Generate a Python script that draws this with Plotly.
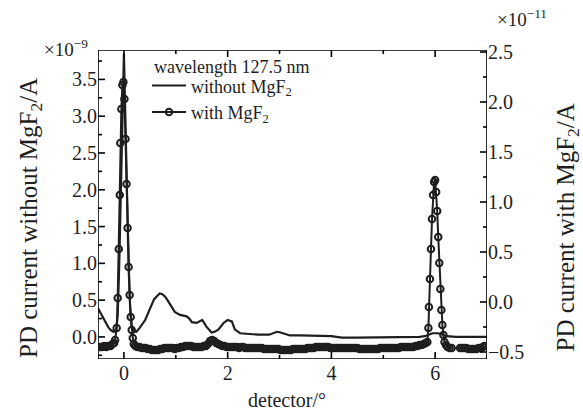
import plotly.graph_objects as go

# ---- data: PD current without MgF2 (left axis, x1e-9 A)
x_without = [-0.50, -0.45, -0.40, -0.35, -0.30, -0.25, -0.20, -0.15, -0.12, -0.09,
             -0.06, -0.03, 0.00, 0.03, 0.06, 0.09, 0.12, 0.15, 0.20, 0.24,
             0.30, 0.35, 0.41, 0.47, 0.53, 0.58, 0.63, 0.69, 0.74, 0.79,
             0.84, 0.89, 0.98, 1.08, 1.15, 1.21, 1.26, 1.31, 1.40, 1.46,
             1.51, 1.59, 1.69, 1.75, 1.82, 1.92, 2.00, 2.08, 2.14, 2.24,
             2.40, 2.60, 2.80, 2.88, 2.95, 3.02, 3.10, 3.20, 3.40, 3.60,
             3.80, 4.00, 4.10, 4.20, 4.50, 4.80, 5.10, 5.40, 5.70, 5.80,
             5.88, 5.95, 6.05, 6.12, 6.22, 6.40, 6.70, 7.00]
y_without = [0.39, 0.32, 0.25, 0.18, 0.13, 0.09, 0.07, 0.08, 0.30, 1.00,
             1.95, 2.90, 3.85, 2.90, 1.90, 0.95, 0.40, 0.15, 0.08, 0.07,
             0.12, 0.17, 0.23, 0.33, 0.44, 0.51, 0.55, 0.59, 0.58, 0.55,
             0.50, 0.44, 0.34, 0.30, 0.29, 0.28, 0.25, 0.20, 0.19, 0.21,
             0.23, 0.14, 0.06, 0.07, 0.10, 0.19, 0.23, 0.21, 0.10, 0.05,
             0.04, 0.03, 0.03, 0.05, 0.07, 0.06, 0.04, 0.02, 0.02, 0.02,
             0.02, 0.01, 0.00, -0.01, -0.01, -0.01, -0.01, -0.01, 0.00, 0.01,
             0.03, 0.05, 0.05, 0.04, 0.01, 0.00, 0.00, 0.00]

# ---- data: PD current with MgF2 (right axis, x1e-11 A)
x_with = [-0.50, -0.46, -0.42, -0.38, -0.34, -0.30, -0.26, -0.22, -0.19, -0.17,
          -0.14, -0.12, -0.10, -0.08, -0.07, -0.05, -0.03, -0.01, 0.01, 0.03,
          0.05, 0.07, 0.09, 0.11, 0.13, 0.15, 0.17, 0.19, 0.22, 0.26,
          0.30, 0.34, 0.38, 0.42, 0.46, 0.50, 0.54, 0.58, 0.62, 0.66,
          0.70, 0.74, 0.78, 0.82, 0.86, 0.90, 0.94, 0.98, 1.02, 1.06,
          1.10, 1.14, 1.18, 1.22, 1.26, 1.30, 1.34, 1.38, 1.42, 1.46,
          1.50, 1.54, 1.58, 1.62, 1.66, 1.70, 1.74, 1.78, 1.82, 1.86,
          1.90, 1.94, 1.98, 2.02, 2.06, 2.10, 2.14, 2.18, 2.22, 2.26,
          2.30, 2.34, 2.38, 2.42, 2.46, 2.50, 2.54, 2.58, 2.62, 2.66,
          2.70, 2.74, 2.78, 2.82, 2.86, 2.90, 2.94, 2.98, 3.02, 3.06,
          3.10, 3.14, 3.18, 3.22, 3.26, 3.30, 3.34, 3.38, 3.42, 3.46,
          3.50, 3.54, 3.58, 3.62, 3.66, 3.70, 3.74, 3.78, 3.82, 3.86,
          3.90, 3.94, 3.98, 4.02, 4.06, 4.10, 4.14, 4.18, 4.22, 4.26,
          4.30, 4.34, 4.38, 4.42, 4.46, 4.50, 4.54, 4.58, 4.62, 4.66,
          4.70, 4.74, 4.78, 4.82, 4.86, 4.90, 4.94, 4.98, 5.02, 5.06,
          5.10, 5.14, 5.18, 5.22, 5.26, 5.30, 5.34, 5.38, 5.42, 5.46,
          5.50, 5.54, 5.58, 5.62, 5.66, 5.70, 5.74, 5.78, 5.82, 5.85,
          5.87, 5.88, 5.90, 5.92, 5.94, 5.96, 5.98, 6.00, 6.02, 6.04,
          6.06, 6.08, 6.10, 6.12, 6.14, 6.16, 6.18, 6.21, 6.24, 6.28,
          6.32, 6.40, 6.48, 6.52, 6.56, 6.60, 6.64, 6.68, 6.72, 6.76,
          6.80, 6.84, 6.88, 6.92, 6.95]
y_with = [-0.45, -0.45, -0.45, -0.44, -0.45, -0.44, -0.44, -0.42, -0.41, -0.38,
          -0.26, 0.04, 0.53, 1.07, 1.59, 1.93, 2.17, 2.20, 2.03, 1.63,
          1.18, 0.74, 0.35, 0.07, -0.15, -0.28, -0.36, -0.42, -0.44, -0.45,
          -0.45, -0.46, -0.46, -0.46, -0.47, -0.47, -0.48, -0.48, -0.48, -0.48,
          -0.47, -0.47, -0.46, -0.46, -0.46, -0.46, -0.46, -0.47, -0.46, -0.46,
          -0.45, -0.45, -0.44, -0.44, -0.44, -0.44, -0.45, -0.45, -0.45, -0.45,
          -0.45, -0.44, -0.44, -0.42, -0.39, -0.38, -0.39, -0.41, -0.42, -0.43,
          -0.44, -0.44, -0.45, -0.45, -0.45, -0.45, -0.45, -0.45, -0.46, -0.45,
          -0.45, -0.46, -0.46, -0.46, -0.46, -0.46, -0.46, -0.46, -0.46, -0.46,
          -0.47, -0.47, -0.47, -0.47, -0.47, -0.47, -0.47, -0.47, -0.48, -0.48,
          -0.48, -0.48, -0.48, -0.48, -0.47, -0.47, -0.47, -0.47, -0.47, -0.47,
          -0.47, -0.46, -0.46, -0.46, -0.46, -0.45, -0.45, -0.45, -0.45, -0.45,
          -0.45, -0.45, -0.46, -0.46, -0.46, -0.46, -0.46, -0.46, -0.46, -0.46,
          -0.46, -0.46, -0.46, -0.46, -0.46, -0.46, -0.47, -0.47, -0.47, -0.47,
          -0.47, -0.47, -0.47, -0.47, -0.47, -0.47, -0.46, -0.46, -0.46, -0.46,
          -0.46, -0.46, -0.46, -0.46, -0.46, -0.46, -0.45, -0.45, -0.45, -0.45,
          -0.45, -0.45, -0.45, -0.44, -0.44, -0.43, -0.43, -0.42, -0.41, -0.40,
          -0.26, -0.05, 0.23, 0.53, 0.83, 1.07, 1.20, 1.22, 1.10, 0.91,
          0.65, 0.39, 0.13, -0.08, -0.23, -0.33, -0.40, -0.43, -0.45, -0.46,
          -0.46, None, -0.46, -0.46, -0.46, -0.46, -0.47, -0.47, -0.47, -0.47,
          -0.47, -0.46, -0.46, -0.45, -0.44]

# ---- axis ranges and tick positions
x_range = [-0.5, 7.0]
yl_range = [-0.3, 3.9]
yr_range = [-0.57, 2.52]
x_major = [0, 2, 4, 6]
x_minor = [1, 3, 5, 7]
yl_major = [0.0, 0.5, 1.0, 1.5, 2.0, 2.5, 3.0, 3.5]
yl_minor = [-0.25, 0.25, 0.75, 1.25, 1.75, 2.25, 2.75, 3.25, 3.75]
yr_major = [-0.5, 0.0, 0.5, 1.0, 1.5, 2.0, 2.5]
yr_minor = [-0.25, 0.25, 0.75, 1.25, 1.75, 2.25]

FONT = "Liberation Serif"
INK = "#1e1e1e"
W, H = 583, 410
ML, MR, MT, MB = 98, 96, 50, 51
PW, PH = W - ML - MR, H - MT - MB
MAJ, MIN = 7, 4  # tick lengths in px

fig = go.Figure()
fig.add_trace(go.Scatter(
    x=x_without, y=y_without, mode="lines", name="without MgF<sub>2</sub>",
    line=dict(color=INK, width=2.2), yaxis="y"))
fig.add_trace(go.Scatter(
    x=x_with, y=y_with, mode="lines+markers", name="with MgF<sub>2</sub>",
    line=dict(color=INK, width=2), connectgaps=False,
    marker=dict(symbol="circle-open", size=6.5, color=INK, line=dict(width=2, color=INK)),
    yaxis="y2"))

# ---- frame and inside ticks as line traces on the plot's own axes
xs_per_px = (x_range[1] - x_range[0]) / PW
yl_per_px = (yl_range[1] - yl_range[0]) / PH
yr_per_px = (yr_range[1] - yr_range[0]) / PH

deco_x, deco_y = [], []
# x ticks, bottom and top
for vals, ln in ((x_major, MAJ), (x_minor, MIN)):
    for v in vals:
        deco_x += [v, v, None, v, v, None]
        deco_y += [yl_range[0], yl_range[0] + ln * yl_per_px, None,
                   yl_range[1], yl_range[1] - ln * yl_per_px, None]
# left y ticks
for vals, ln in ((yl_major, MAJ), (yl_minor, MIN)):
    for v in vals:
        deco_x += [x_range[0], x_range[0] + ln * xs_per_px, None]
        deco_y += [v, v, None]
# frame
deco_x += [x_range[0], x_range[1], x_range[1], x_range[0], x_range[0], None]
deco_y += [yl_range[0], yl_range[0], yl_range[1], yl_range[1], yl_range[0], None]

fig.add_trace(go.Scatter(x=deco_x, y=deco_y, mode="lines", yaxis="y",
                         line=dict(color="black", width=1.6), showlegend=False,
                         hoverinfo="skip", cliponaxis=False, connectgaps=False))

rt_x, rt_y = [], []
for vals, ln in ((yr_major, MAJ), (yr_minor, MIN)):
    for v in vals:
        rt_x += [x_range[1], x_range[1] - ln * xs_per_px, None]
        rt_y += [v, v, None]
fig.add_trace(go.Scatter(x=rt_x, y=rt_y, mode="lines", yaxis="y2",
                         line=dict(color="black", width=1.6), showlegend=False,
                         hoverinfo="skip", cliponaxis=False, connectgaps=False))

hidden = dict(showline=False, ticks="", showgrid=False, zeroline=False,
              tickfont=dict(family=FONT, size=20, color=INK))

fig.update_layout(
    width=W, height=H,
    margin=dict(l=ML, r=MR, t=MT, b=MB),
    paper_bgcolor="white", plot_bgcolor="white",
    font=dict(family=FONT, color=INK, size=18),
    showlegend=True,
    legend=dict(
        x=0.126, y=0.842, xanchor="left", yanchor="middle",
        bgcolor="rgba(0,0,0,0)", borderwidth=0,
        font=dict(family=FONT, size=18, color=INK),
        tracegroupgap=0, itemwidth=34,
    ),
    xaxis=dict(range=x_range, tickvals=x_major, **hidden),
    yaxis=dict(range=yl_range, tickvals=yl_major, tickformat=".1f",
               ticksuffix="\u2002", **hidden),
    yaxis2=dict(range=yr_range, tickvals=yr_major, tickformat=".1f",
                overlaying="y", side="right", tickprefix="\u2009", **hidden),
)

ann = [
    dict(text="wavelength 127.5 nm", x=(152 - ML) / PW, y=(H - MB - 67) / PH, xanchor="left",
         font=dict(size=18)),
    dict(text="×10<sup>−9</sup>", x=-0.082, y=1.006, font=dict(size=19)),
    dict(text="×10<sup>−11</sup>", x=1.09, y=1.104, font=dict(size=19)),
    dict(text="PD current without MgF<sub>2</sub>/A", x=-0.175, y=0.456, textangle=-90,
         font=dict(size=25)),
    dict(text="PD current with MgF<sub>2</sub>/A", x=1.207, y=0.424, textangle=-90,
         font=dict(size=25)),
    dict(text="detector/°", x=0.486, y=-0.133, font=dict(size=20)),
]
for a in ann:
    f = dict(family=FONT, color=INK)
    f.update(a.pop("font"))
    xa = a.pop("xanchor", "center")
    fig.add_annotation(xref="paper", yref="paper", showarrow=False,
                       xanchor=xa, yanchor="middle", font=f, **a)

fig.write_html("out.html", config={"displayModeBar": False},
               post_script="document.body.style.margin='0';document.body.style.padding='0';")
